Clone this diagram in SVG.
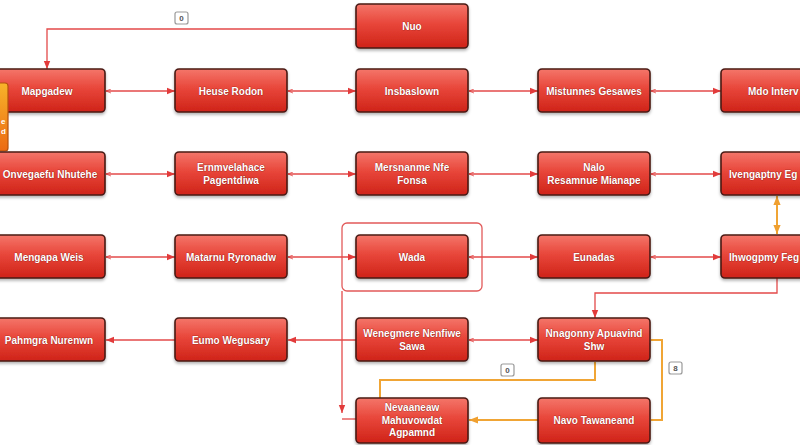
<svg xmlns="http://www.w3.org/2000/svg" width="800" height="445" viewBox="0 0 800 445">
  <defs>
    <linearGradient id="gRed" x1="0" y1="0" x2="0" y2="1">
      <stop offset="0" stop-color="#f4766a"/>
      <stop offset="0.45" stop-color="#e8463a"/>
      <stop offset="1" stop-color="#cf2318"/>
    </linearGradient>
    <linearGradient id="gOrange" x1="0" y1="0" x2="0" y2="1">
      <stop offset="0" stop-color="#f8b42a"/>
      <stop offset="1" stop-color="#ec6a12"/>
    </linearGradient>
    <filter id="shadow" x="-10%" y="-20%" width="120%" height="150%">
      <feDropShadow dx="0" dy="2" stdDeviation="1.5" flood-color="#000" flood-opacity="0.3"/>
    </filter>
    <marker id="arrR" viewBox="0 0 10 10" refX="10" refY="5" markerWidth="8" markerHeight="8" orient="auto" markerUnits="userSpaceOnUse">
      <path d="M0,1 L10,5 L0,9 z" fill="#e23b3b"/>
    </marker>
    <marker id="startR" viewBox="0 0 10 10" refX="0" refY="5" markerWidth="5" markerHeight="5" orient="auto" markerUnits="userSpaceOnUse">
      <path d="M10,1 L0,5 L10,9" fill="none" stroke="#e23b3b" stroke-width="1.5"/>
    </marker>
    <marker id="arrO" viewBox="0 0 10 10" refX="10" refY="5" markerWidth="9" markerHeight="9" orient="auto" markerUnits="userSpaceOnUse">
      <path d="M0,1 L10,5 L0,9 z" fill="#f0a030"/>
    </marker>
    <marker id="arrOs" viewBox="0 0 10 10" refX="0" refY="5" markerWidth="9" markerHeight="9" orient="auto" markerUnits="userSpaceOnUse">
      <path d="M10,1 L0,5 L10,9 z" fill="#f0a030"/>
    </marker>
  </defs>
  <style>
    .box { fill: url(#gRed); stroke: #4a1a14; stroke-width: 1.6; filter: url(#shadow); }
    .obox { fill: url(#gOrange); stroke: #b5520c; stroke-width: 1.2; }
    .t { font-family: "Liberation Sans", Arial, sans-serif; font-size: 10px; font-weight: bold; fill: #ffffff; text-anchor: middle; dominant-baseline: central; paint-order: stroke; stroke: #8a1a12; stroke-width: 0.6px; }
    .ts { text-anchor: start; }
    .ot { font-family: "Liberation Sans", Arial, sans-serif; font-size: 8px; font-weight: bold; fill: #ffffff; text-anchor: start; dominant-baseline: central; }
    .ln { fill: none; stroke: #e34a4a; stroke-width: 1.3; }
    .ol { fill: none; stroke: #f0a535; stroke-width: 2; }
    .grp { fill: none; stroke: #e25a5a; stroke-width: 1.3; }
    .lb rect { fill: #ffffff; stroke: #999999; stroke-width: 1.2; }
    .lb text { font-family: "Liberation Sans", Arial, sans-serif; font-size: 8px; font-weight: bold; fill: #555555; text-anchor: middle; dominant-baseline: central; }
  </style>
  <rect width="800" height="445" fill="#ffffff"/>

  <g id="connectors">
    <rect class="grp" x="342" y="223" width="140" height="68" rx="5"/>
    <path class="ln" d="M356,29 H47 V69" marker-end="url(#arrR)"/>
    <path class="ln" d="M106,91 H175" marker-start="url(#startR)" marker-end="url(#arrR)"/>
    <path class="ln" d="M288,91 H356" marker-start="url(#startR)" marker-end="url(#arrR)"/>
    <path class="ln" d="M469,91 H538" marker-start="url(#startR)" marker-end="url(#arrR)"/>
    <path class="ln" d="M651,91 H721" marker-start="url(#startR)" marker-end="url(#arrR)"/>
    <path class="ln" d="M106,174 H175" marker-start="url(#startR)" marker-end="url(#arrR)"/>
    <path class="ln" d="M288,174 H356" marker-start="url(#startR)" marker-end="url(#arrR)"/>
    <path class="ln" d="M469,174 H538" marker-start="url(#startR)" marker-end="url(#arrR)"/>
    <path class="ln" d="M651,174 H721" marker-start="url(#startR)" marker-end="url(#arrR)"/>
    <path class="ln" d="M106,257 H175" marker-start="url(#startR)" marker-end="url(#arrR)"/>
    <path class="ln" d="M288,257 H356" marker-start="url(#startR)" marker-end="url(#arrR)"/>
    <path class="ln" d="M469,257 H538" marker-start="url(#startR)" marker-end="url(#arrR)"/>
    <path class="ln" d="M651,257 H721" marker-start="url(#startR)" marker-end="url(#arrR)"/>
    <path class="ln" d="M175,340 H106" marker-end="url(#arrR)"/>
    <path class="ln" d="M356,340 H288" marker-end="url(#arrR)"/>
    <path class="ln" d="M469,340 H538" marker-start="url(#startR)" marker-end="url(#arrR)"/>
    <path class="ln" d="M777,278 V293 H595 V318" marker-end="url(#arrR)"/>
    <path class="ln" d="M342,291 V413" marker-end="url(#arrR)"/>
    <path class="ln" d="M342,419 H356"/>
    <path class="ol" d="M777,196 V234" marker-start="url(#arrOs)" marker-end="url(#arrO)"/>
    <path class="ol" d="M595,362 V380 H380 V398"/>
    <path class="ol" d="M651,340 H662 V420 H651"/>
    <path class="ol" d="M538,420 H469" marker-end="url(#arrO)"/>
    <g class="lb"><rect x="175" y="12" width="13" height="12" rx="2"/><text x="181.5" y="18.5">0</text></g>
    <g class="lb"><rect x="501" y="364" width="13" height="12" rx="2"/><text x="507.5" y="370.5">0</text></g>
    <g class="lb"><rect x="669" y="362" width="13" height="12" rx="2"/><text x="675.5" y="368.5">8</text></g>
  </g>

  <g id="n-top"><rect class="box" x="356" y="4" width="112" height="44" rx="4"/><text class="t" x="412" y="26">Nuo</text></g>

  <g id="n-r0c0"><rect class="box" x="-7" y="69" width="112" height="43" rx="4"/><text class="t" x="47" y="91">Mapgadew</text></g>
  <g id="n-r0c1"><rect class="box" x="175" y="69" width="112" height="43" rx="4"/><text class="t" x="231" y="91">Heuse Rodon</text></g>
  <g id="n-r0c2"><rect class="box" x="356" y="69" width="112" height="43" rx="4"/><text class="t" x="412" y="91">Insbaslown</text></g>
  <g id="n-r0c3"><rect class="box" x="538" y="69" width="112" height="43" rx="4"/><text class="t" x="594" y="91">Mistunnes Gesawes</text></g>
  <g id="n-r0c4"><rect class="box" x="721" y="69" width="112" height="43" rx="4"/><text class="t ts" x="748" y="91">Mdo Interv</text></g>

  <g id="n-orange"><rect class="obox" x="-60" y="83" width="68" height="68" rx="3"/><text class="ot" x="1" y="121">e</text><text class="ot" x="1" y="131">d</text></g>

  <g id="n-r1c0"><rect class="box" x="-7" y="152" width="112" height="43" rx="4"/><text class="t" x="50" y="174">Onvegaefu Nhutehe</text></g>
  <g id="n-r1c1"><rect class="box" x="175" y="152" width="112" height="43" rx="4"/><text class="t" x="231" y="167.5">Ernmvelahace</text><text class="t" x="231" y="180.5">Pagentdiwa</text></g>
  <g id="n-r1c2"><rect class="box" x="356" y="152" width="112" height="43" rx="4"/><text class="t" x="412" y="167.5">Mersnanme Nfe</text><text class="t" x="412" y="180.5">Fonsa</text></g>
  <g id="n-r1c3"><rect class="box" x="538" y="152" width="112" height="43" rx="4"/><text class="t" x="594" y="167.5">Nalo</text><text class="t" x="594" y="180.5">Resamnue Mianape</text></g>
  <g id="n-r1c4"><rect class="box" x="721" y="152" width="112" height="43" rx="4"/><text class="t ts" x="729" y="174">Ivengaptny Eg</text></g>

  <g id="n-r2c0"><rect class="box" x="-7" y="235" width="112" height="43" rx="4"/><text class="t" x="49" y="257">Mengapa Weis</text></g>
  <g id="n-r2c1"><rect class="box" x="175" y="235" width="112" height="43" rx="4"/><text class="t" x="231" y="257">Matarnu Ryronadw</text></g>
  <g id="n-r2c2"><rect class="box" x="356" y="235" width="112" height="43" rx="4"/><text class="t" x="412" y="257">Wada</text></g>
  <g id="n-r2c3"><rect class="box" x="538" y="235" width="112" height="43" rx="4"/><text class="t" x="594" y="257">Eunadas</text></g>
  <g id="n-r2c4"><rect class="box" x="721" y="235" width="112" height="43" rx="4"/><text class="t ts" x="729" y="257">Ihwogpmy Feg</text></g>

  <g id="n-r3c0"><rect class="box" x="-7" y="318" width="112" height="43" rx="4"/><text class="t" x="49" y="340">Pahmgra Nurenwn</text></g>
  <g id="n-r3c1"><rect class="box" x="175" y="318" width="112" height="43" rx="4"/><text class="t" x="231" y="340">Eumo Wegusary</text></g>
  <g id="n-r3c2"><rect class="box" x="356" y="318" width="112" height="43" rx="4"/><text class="t" x="412" y="333.5">Wenegmere Nenfiwe</text><text class="t" x="412" y="346.5">Sawa</text></g>
  <g id="n-r3c3"><rect class="box" x="538" y="318" width="112" height="43" rx="4"/><text class="t" x="594" y="333.5">Nnagonny Apuavind</text><text class="t" x="594" y="346.5">Shw</text></g>

  <g id="n-r4c2"><rect class="box" x="356" y="398" width="112" height="45" rx="4"/><text class="t" x="412" y="407.5">Nevaaneaw</text><text class="t" x="412" y="420">Mahuvowdat</text><text class="t" x="412" y="432.5">Agpamnd</text></g>
  <g id="n-r4c3"><rect class="box" x="538" y="398" width="112" height="45" rx="4"/><text class="t" x="594" y="420">Navo Tawaneand</text></g>
</svg>
